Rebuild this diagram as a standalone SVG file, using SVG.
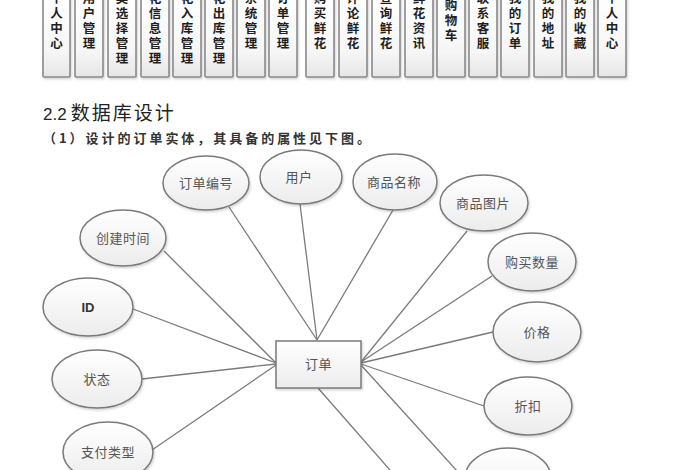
<svg xmlns="http://www.w3.org/2000/svg" width="700" height="470" viewBox="0 0 700 470">
<defs>
<linearGradient id="colg" x1="0" y1="0" x2="0" y2="1">
<stop offset="0" stop-color="#ffffff"/><stop offset="0.7" stop-color="#f6f6f6"/><stop offset="1" stop-color="#e6e6e6"/>
</linearGradient>
<linearGradient id="elg" x1="0" y1="0" x2="0" y2="1">
<stop offset="0" stop-color="#ffffff"/><stop offset="1" stop-color="#ececec"/>
</linearGradient>
<filter id="sh" x="-20%" y="-20%" width="140%" height="140%">
<feDropShadow dx="1" dy="1.5" stdDeviation="1" flood-color="#000" flood-opacity="0.18"/>
</filter>
</defs>
<style>
.col{fill:url(#colg);stroke:#8a8a8a;stroke-width:1.6;filter:url(#sh)}
.ct{font-family:"Noto Sans CJK SC","Noto Sans",sans-serif;font-size:12.5px;font-weight:bold;fill:#1e1e1e;writing-mode:vertical-rl;letter-spacing:2.5px}
.ell{fill:url(#elg);stroke:#7a7a7a;stroke-width:1.5;filter:url(#sh)}
.lbl{font-family:"Noto Sans CJK SC","Noto Sans",sans-serif;font-size:13px;fill:#555;text-anchor:middle;letter-spacing:0.5px}
.con line{stroke:#7a7a7a;stroke-width:1.3}
.h1{font-family:"Liberation Sans","Noto Sans CJK SC",sans-serif;font-size:19px;fill:#222}
.h2{font-family:"Noto Sans CJK SC",sans-serif;font-size:13px;font-weight:bold;fill:#333}
</style>
<rect width="700" height="470" fill="#fff"/>

<g id="menu">
<g id="c1"><rect class="col" x="43" y="-6" width="27" height="83" rx="1"/><text class="ct" x="56.5" y="-8.5">个人中心</text></g>
<g id="c2"><rect class="col" x="75" y="-6" width="28" height="83" rx="1"/><text class="ct" x="89" y="-8.5">用户管理</text></g>
<g id="c3"><rect class="col" x="108" y="-6" width="28" height="83" rx="1"/><text class="ct" x="122" y="-8.5">类选择管理</text></g>
<g id="c4"><rect class="col" x="141" y="-6" width="28" height="83" rx="1"/><text class="ct" x="155" y="-8.5">花信息管理</text></g>
<g id="c5"><rect class="col" x="173" y="-6" width="28" height="83" rx="1"/><text class="ct" x="187" y="-8.5">花入库管理</text></g>
<g id="c6"><rect class="col" x="205" y="-6" width="28" height="83" rx="1"/><text class="ct" x="219" y="-8.5">花出库管理</text></g>
<g id="c7"><rect class="col" x="237" y="-6" width="28" height="83" rx="1"/><text class="ct" x="251" y="-8.5">系统管理</text></g>
<g id="c8"><rect class="col" x="269" y="-6" width="28" height="83" rx="1"/><text class="ct" x="283" y="-8.5">订单管理</text></g>
<g id="c9"><rect class="col" x="306" y="-6" width="28" height="83" rx="1"/><text class="ct" x="320" y="-8.5">购买鲜花</text></g>
<g id="c10"><rect class="col" x="339" y="-6" width="28" height="83" rx="1"/><text class="ct" x="353" y="-8.5">评论鲜花</text></g>
<g id="c11"><rect class="col" x="372" y="-6" width="28" height="83" rx="1"/><text class="ct" x="386" y="-8.5">查询鲜花</text></g>
<g id="c12"><rect class="col" x="405" y="-6" width="28" height="83" rx="1"/><text class="ct" x="419" y="-8.5">鲜花资讯</text></g>
<g id="c13"><rect class="col" x="437" y="-6" width="28" height="83" rx="1"/><text class="ct" x="451" y="-1.5">购物车</text></g>
<g id="c14"><rect class="col" x="469" y="-6" width="28" height="83" rx="1"/><text class="ct" x="483" y="-8.5">联系客服</text></g>
<g id="c15"><rect class="col" x="501" y="-6" width="28" height="83" rx="1"/><text class="ct" x="515" y="-8.5">我的订单</text></g>
<g id="c16"><rect class="col" x="534" y="-6" width="28" height="83" rx="1"/><text class="ct" x="548" y="-8.5">我的地址</text></g>
<g id="c17"><rect class="col" x="566" y="-6" width="28" height="83" rx="1"/><text class="ct" x="580" y="-8.5">我的收藏</text></g>
<g id="c18"><rect class="col" x="598" y="-6" width="28" height="83" rx="1"/><text class="ct" x="612" y="-8.5">个人中心</text></g>
</g>

<text class="h1" x="43" y="120"><tspan font-size="17">2.2</tspan><tspan font-family="Noto Sans CJK SC,sans-serif" letter-spacing="2" dx="4">数据库设计</tspan></text>
<text class="h2" x="43" y="143" textLength="327" lengthAdjust="spacing">（1）设计的订单实体，其具备的属性见下图。</text>

<g class="con" id="connectors">
<line x1="229" y1="207" x2="317" y2="340"/>
<line x1="300" y1="204" x2="317" y2="340"/>
<line x1="393" y1="210" x2="317" y2="340"/>
<line x1="164" y1="251" x2="276" y2="363"/>
<line x1="133" y1="309" x2="276" y2="363"/>
<line x1="142" y1="379" x2="276" y2="364"/>
<line x1="152" y1="450" x2="276" y2="365"/>
<line x1="467" y1="231" x2="361" y2="362"/>
<line x1="492" y1="276" x2="361" y2="362"/>
<line x1="493" y1="332" x2="361" y2="363"/>
<line x1="484" y1="406" x2="361" y2="364"/>
<line x1="458" y1="472" x2="361" y2="365"/>
<line x1="318" y1="388" x2="404" y2="486"/>
</g>

<g id="order"><rect x="276" y="341" width="85" height="47" fill="url(#elg)" stroke="#7a7a7a" stroke-width="1.5" filter="url(#sh)"/><text class="lbl" x="318.5" y="369" font-size="14">订单</text></g>
<g id="a_no"><ellipse class="ell" cx="206" cy="183" rx="43" ry="27"/><text class="lbl" x="206" y="187.5">订单编号</text></g>
<g id="a_user"><ellipse class="ell" cx="301" cy="177" rx="41" ry="27"/><text class="lbl" x="299" y="181.5">用户</text></g>
<g id="a_name"><ellipse class="ell" cx="395" cy="182" rx="42" ry="28"/><text class="lbl" x="394" y="186.5">商品名称</text></g>
<g id="a_pic"><ellipse class="ell" cx="484" cy="203" rx="44" ry="28"/><text class="lbl" x="483" y="207.5">商品图片</text></g>
<g id="a_qty"><ellipse class="ell" cx="532" cy="262" rx="44" ry="29"/><text class="lbl" x="532" y="266.5">购买数量</text></g>
<g id="a_price"><ellipse class="ell" cx="537" cy="332" rx="44" ry="30"/><text class="lbl" x="537" y="336.5">价格</text></g>
<g id="a_disc"><ellipse class="ell" cx="528" cy="406" rx="44" ry="29"/><text class="lbl" x="528" y="410.5">折扣</text></g>
<g id="a_more"><ellipse class="ell" cx="508" cy="478" rx="43" ry="30"/></g>
<g id="a_time"><ellipse class="ell" cx="123" cy="238" rx="43" ry="28"/><text class="lbl" x="123" y="242.5">创建时间</text></g>
<g id="a_id"><ellipse class="ell" cx="88" cy="307" rx="45" ry="29"/><text x="88" y="312" text-anchor="middle" font-family="Liberation Sans,sans-serif" font-size="13" font-weight="bold" fill="#333">ID</text></g>
<g id="a_state"><ellipse class="ell" cx="97" cy="379" rx="45" ry="29"/><text class="lbl" x="97" y="384">状态</text></g>
<g id="a_pay"><ellipse class="ell" cx="108" cy="452" rx="45" ry="30"/><text class="lbl" x="108" y="456.5">支付类型</text></g>
</svg>
